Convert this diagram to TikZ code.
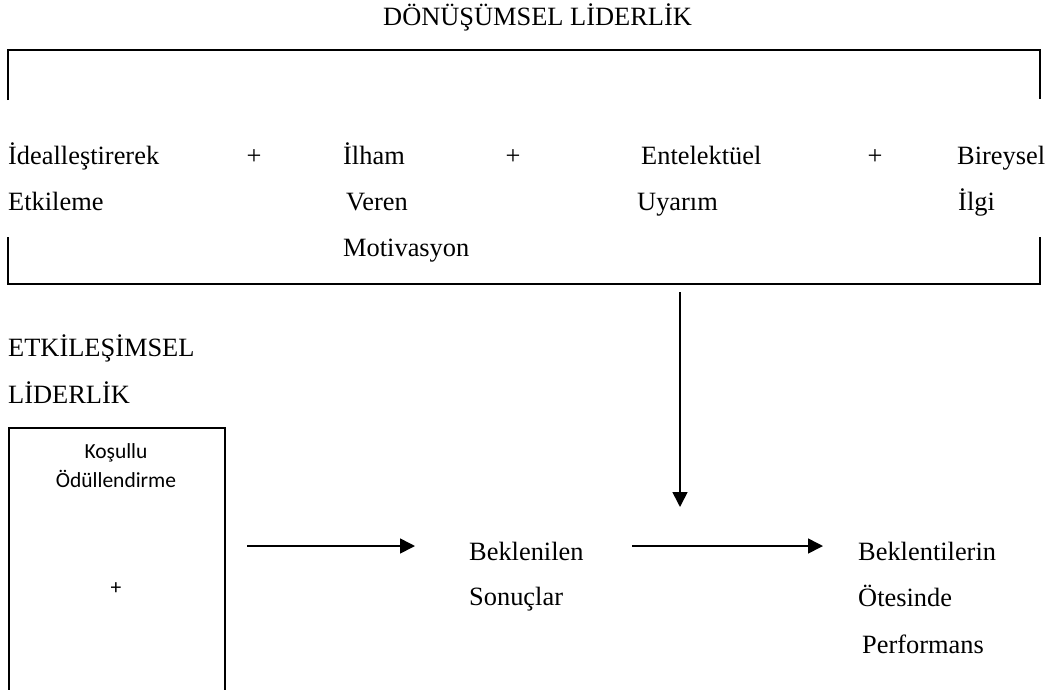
\documentclass[tikz,border=0pt]{standalone}
\usepackage{fontspec}
\setmainfont{Liberation Serif}
\newfontfamily\calibfont{Carlito}
\usetikzlibrary{arrows.meta}

\tikzset{
  lbl/.style={anchor=base west, inner sep=0pt, font=\fontsize{26.4}{30}\selectfont},
  plus/.style={anchor=base, inner sep=0pt, font=\fontsize{26.4}{30}\selectfont},
  sans/.style={anchor=base, inner sep=0pt, font=\calibfont\fontsize{21.5}{26}\selectfont},
  flow/.style={line width=1.6pt, -{Triangle[length=15pt,width=15pt]}},
  brkt/.style={line width=2pt},
}

\begin{document}
\begin{tikzpicture}[x=1pt,y=-1pt]
    \useasboundingbox (0,0) rectangle (1055,689);

    % the title
    \node[lbl] (donus) at (383,25) {DÖNÜŞÜMSEL LİDERLİK};

    % the two brackets
    \draw[brkt] (8,100) -- (8,50) -- (1040,50) -- (1040,99);
    \draw[brkt] (8,237) -- (8,284) -- (1040,284) -- (1040,237);

    % the four components
    \node[lbl] (ideal1) at (8,164) {İdealleştirerek};
    \node[lbl] (ideal2) at (8,210) {Etkileme};
    \node[plus] (plus1) at (254,164) {+};
    \node[lbl] (ilham1) at (343,164) {İlham};
    \node[lbl] (ilham2) at (346,210) {Veren};
    \node[lbl] (ilham3) at (343,256) {Motivasyon};
    \node[plus] (plus2) at (513,164) {+};
    \node[lbl] (entel1) at (641,164) {Entelektüel};
    \node[lbl] (entel2) at (637,210) {Uyarım};
    \node[plus] (plus3) at (875,164) {+};
    \node[lbl] (birey1) at (957,164) {Bireysel};
    \node[lbl] (birey2) at (958,210) {İlgi};

    % the transactional side
    \node[lbl] (etki1) at (8,356) {ETKİLEŞİMSEL};
    \node[lbl] (etki2) at (8,403) {LİDERLİK};
    \node[draw, line width=1.8pt, anchor=north west, inner sep=0pt,
          minimum width=216pt, minimum height=300pt] (kosul) at (8,427) {};
    \node[sans] (kosul1) at (116,458) {Koşullu};
    \node[sans] (kosul2) at (116,487) {Ödüllendirme};
    \node[sans] (kosul3) at (116,594) {+};

    % the outcomes
    \node[lbl] (bekl1) at (469,560) {Beklenilen};
    \node[lbl] (bekl2) at (469,605) {Sonuçlar};
    \node[lbl] (otes1) at (858,560) {Beklentilerin};
    \node[lbl] (otes2) at (858,606) {Ötesinde};
    \node[lbl] (otes3) at (862,653) {Performans};

    % the arrows
    \coordinate (a1s) at (247,546);
    \coordinate (a1e) at (415,546);
    \coordinate (a2s) at (632,546);
    \coordinate (a2e) at (823,546);
    \coordinate (v1s) at (680,292);
    \coordinate (v1e) at (680,507);
    \draw[flow] (a1s) -- (a1e);
    \draw[flow] (a2s) -- (a2e);
    \draw[flow] (v1s) -- (v1e);
\end{tikzpicture}
\end{document}
